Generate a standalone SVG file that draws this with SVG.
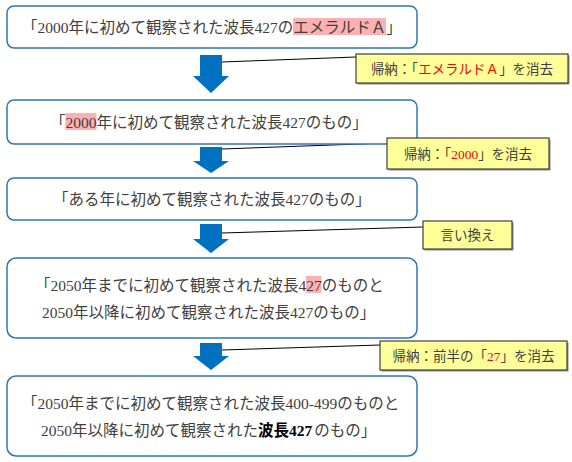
<svg xmlns="http://www.w3.org/2000/svg" width="572" height="462" viewBox="0 0 572 462">
<style>
.box{fill:#fff;stroke:#2E75B6;stroke-width:1.5}
.t{font-family:"Liberation Serif","Noto Sans CJK JP",serif;font-size:15.5px;fill:#404040}
.ct{font-family:"Liberation Serif","Noto Sans CJK JP",serif;font-size:13.5px;fill:#404040;text-anchor:middle}
.n{font-family:"Liberation Serif",serif}
.red{fill:#FF0000}
.hl{fill:#FFB0B0}
.b{font-weight:bold;fill:#000}
.arr{fill:#0070C0}
.lead{stroke:#000;stroke-width:1;fill:none}
.co{fill:#FFFF99;stroke:#404040;stroke-width:1.2}
.sh{fill:#8c8c8c}
</style>
<g id="connectors">
<polygon class="arr" points="200,55 222,55 222,76 229,76 211,93 193,76 200,76"/>
<polygon class="arr" points="200,147 222,147 222,161 229,161 211,173 193,161 200,161"/>
<polygon class="arr" points="200,224 222,224 222,239 229,239 211,253 193,239 200,239"/>
<polygon class="arr" points="200,343 222,343 222,356 229,356 211,370 193,356 200,356"/>
<line class="lead" x1="222" y1="62" x2="356" y2="57"/>
<line class="lead" x1="222" y1="149" x2="387" y2="143"/>
<line class="lead" x1="222" y1="233" x2="423" y2="227"/>
<line class="lead" x1="222" y1="350" x2="380" y2="345"/>
</g>
<g id="box1">
<rect class="box" x="7" y="6" width="410" height="42" rx="7"/>
<rect class="hl" x="293" y="18" width="93" height="17"/>
<text class="t" x="22" y="33">「<tspan class="n">2000</tspan>年に初めて観察された波長<tspan class="n">427</tspan>のエメラルドＡ」</text>
</g>
<g id="box2">
<rect class="box" x="7" y="100" width="410" height="44" rx="7"/>
<rect class="hl" x="65.5" y="113" width="31" height="17"/>
<text class="t" x="50" y="128">「<tspan class="n">2000</tspan>年に初めて観察された波長<tspan class="n">427</tspan>のもの」</text>
</g>
<g id="box3">
<rect class="box" x="7" y="178" width="410" height="42" rx="7"/>
<text class="t" x="53" y="205">「ある年に初めて観察された波長<tspan class="n">427</tspan>のもの」</text>
</g>
<g id="box4">
<rect class="box" x="7" y="258" width="410" height="80" rx="9"/>
<rect class="hl" x="306" y="276" width="15.5" height="17"/>
<text class="t" x="35" y="291">「<tspan class="n">2050</tspan>年までに初めて観察された波長<tspan class="n">427</tspan>のものと</text>
<text class="t" x="42" y="318"><tspan class="n">2050</tspan>年以降に初めて観察された波長<tspan class="n">427</tspan>のもの」</text>
</g>
<g id="box5">
<rect class="box" x="7" y="376" width="410" height="80" rx="9"/>
<text class="t" x="22" y="409">「<tspan class="n">2050</tspan>年までに初めて観察された波長<tspan class="n">400-499</tspan>のものと</text>
<text class="t" x="41" y="436"><tspan class="n">2050</tspan>年以降に初めて観察された<tspan class="b">波長</tspan><tspan class="b n">427</tspan><tspan dx="2">のもの」</tspan></text>
</g>
<g id="callout1">
<rect class="sh" x="357.5" y="55.5" width="212" height="29"/>
<rect class="co" x="356" y="54" width="212" height="29"/>
<text class="ct" x="462" y="73.5">帰納：「<tspan class="red">エメラルドＡ</tspan>」を消去</text>
</g>
<g id="callout2">
<rect class="sh" x="388.5" y="139.5" width="162" height="31"/>
<rect class="co" x="387" y="138" width="162" height="31"/>
<text class="ct" x="468" y="158.5">帰納：「<tspan class="red n">2000</tspan>」を消去</text>
</g>
<g id="callout3">
<rect class="sh" x="424.5" y="222.5" width="89" height="28"/>
<rect class="co" x="423" y="221" width="89" height="28"/>
<text class="ct" x="467.5" y="240">言い換え</text>
</g>
<g id="callout4">
<rect class="sh" x="381.5" y="342.5" width="187" height="29"/>
<rect class="co" x="380" y="341" width="187" height="29"/>
<text class="ct" x="473.5" y="360.5">帰納：前半の「<tspan class="red n">27</tspan>」を消去</text>
</g>
</svg>
